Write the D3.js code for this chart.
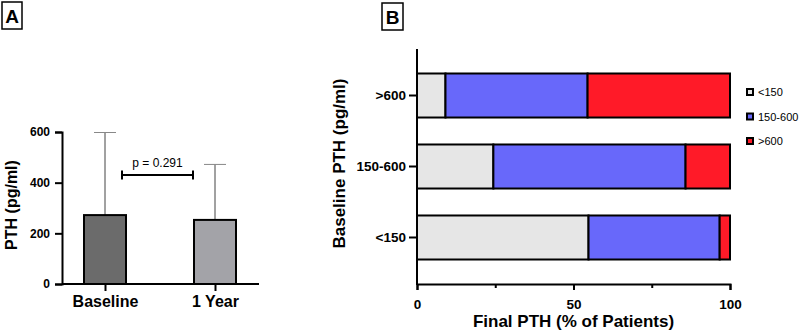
<!DOCTYPE html>
<html>
<head>
<meta charset="utf-8">
<script src="https://cdn.jsdelivr.net/npm/d3@7"></script>
<style>
  body { margin: 0; background: #fff; }
  svg { font-family: "Liberation Sans", Arial, sans-serif; }
</style>
</head>
<body>
<div id="chart"></div>
<script>
// panel A data
const timepoints = ["Baseline", "1 Year"];
const pthMean = [272, 253];
const pthSD = [326, 219];
const barColors = ["#6b6b6b", "#a3a3a8"];
const pLabel = "p = 0.291";
const yTicksA = [0, 200, 400, 600];

// panel B data
const baselineGroups = ["<150", "150-600", ">600"];
const finalGroups = ["<150", "150-600", ">600"];
const finalLow = [54.8, 24.4, 9.1];
const finalMid = [41.9, 61.4, 45.4];
const finalHigh = [3.3, 14.2, 45.5];
const segColors = ["#e6e6e6", "#6868fa", "#ff1a28"];
const xTicksB = [0, 25, 50, 75, 100];

const FONT = "Liberation Sans, Arial, sans-serif";

const svg = d3.select("#chart").append("svg")
    .attr("width", 800)
    .attr("height", 335);

// ---------- panel A ----------
const gA = svg.append("g");
const yA = d3.scaleLinear().domain([0, 600]).range([284, 132]);
const xA = d3.scalePoint().domain(timepoints).range([105, 215]);

gA.append("rect").attr("x", 2).attr("y", 2).attr("width", 20).attr("height", 27)
    .attr("fill", "none").attr("stroke", "#000").attr("stroke-width", 1.5);
gA.append("text").attr("x", 12).attr("y", 23).attr("text-anchor", "middle")
    .attr("font-size", 19).attr("font-weight", "bold").text("A");

// error bars first, bars drawn on top
timepoints.forEach((t, i) => {
    const cx = xA(t);
    gA.append("line").attr("x1", cx).attr("x2", cx)
        .attr("y1", yA(pthMean[i])).attr("y2", yA(pthMean[i] + pthSD[i]))
        .attr("stroke", "#444").attr("stroke-width", 1);
    gA.append("line").attr("x1", cx - 11).attr("x2", cx + 11)
        .attr("y1", yA(pthMean[i] + pthSD[i])).attr("y2", yA(pthMean[i] + pthSD[i]))
        .attr("stroke", "#888").attr("stroke-width", 1);
});

gA.selectAll(".barA")
    .data(timepoints)
    .join("rect")
    .attr("class", "barA")
    .attr("x", d => xA(d) - 21)
    .attr("width", 42)
    .attr("y", (d, i) => yA(pthMean[i]))
    .attr("height", (d, i) => yA(0) - yA(pthMean[i]))
    .attr("fill", (d, i) => barColors[i])
    .attr("stroke", "#000")
    .attr("stroke-width", 2);

const axisYA = gA.append("g").attr("transform", "translate(62,0)")
    .call(d3.axisLeft(yA).tickValues(yTicksA).tickSize(7).tickPadding(5));
const axisXA = gA.append("g").attr("transform", "translate(0,284)")
    .call(d3.axisBottom(xA).tickSize(7).tickPadding(5));
axisXA.select(".domain").attr("d", "M62,0H259");
[axisYA, axisXA].forEach(a => {
    a.select(".domain").attr("stroke-width", 2).attr("stroke", "#000");
    a.selectAll(".tick line").attr("stroke-width", 2).attr("stroke", "#000");
});
axisYA.selectAll("text").attr("font-size", 12).attr("font-weight", "bold")
    .attr("font-family", FONT).attr("fill", "#000");
axisXA.selectAll("text").attr("font-size", 16).attr("font-weight", "bold")
    .attr("font-family", FONT).attr("fill", "#000");

gA.append("text")
    .attr("transform", "translate(17,205) rotate(-90)")
    .attr("text-anchor", "middle")
    .attr("font-size", 16).attr("font-weight", "bold")
    .text("PTH (pg/ml)");

// significance bracket
const bY = yA(430);
gA.append("line").attr("x1", 122).attr("x2", 193).attr("y1", bY).attr("y2", bY)
    .attr("stroke", "#000").attr("stroke-width", 2);
[122, 193].forEach(x => gA.append("line").attr("x1", x).attr("x2", x)
    .attr("y1", bY - 4.5).attr("y2", bY + 4.5).attr("stroke", "#000").attr("stroke-width", 2));
gA.append("text").attr("x", 157.5).attr("y", 167).attr("text-anchor", "middle")
    .attr("font-size", 12).text(pLabel);

// ---------- panel B ----------
const gB = svg.append("g");
const xB = d3.scaleLinear().domain([0, 100]).range([417, 730]);
const yB = d3.scaleBand().domain(baselineGroups).range([284, 49])
    .paddingInner(0.38).paddingOuter(0.345);

gB.append("rect").attr("x", 382).attr("y", 3).attr("width", 21).attr("height", 27)
    .attr("fill", "none").attr("stroke", "#000").attr("stroke-width", 1.5);
gB.append("text").attr("x", 392.5).attr("y", 24).attr("text-anchor", "middle")
    .attr("font-size", 19).attr("font-weight", "bold").text("B");

const stackRows = baselineGroups.map((g, i) => ({
    group: g, "<150": finalLow[i], "150-600": finalMid[i], ">600": finalHigh[i]
}));
const series = d3.stack().keys(finalGroups)(stackRows);

gB.selectAll(".seg")
    .data(series)
    .join("g")
    .attr("fill", (d, i) => segColors[i])
    .selectAll("rect")
    .data(d => d)
    .join("rect")
    .attr("x", d => xB(d[0]))
    .attr("width", d => xB(d[1]) - xB(d[0]))
    .attr("y", d => yB(d.data.group))
    .attr("height", yB.bandwidth())
    .attr("stroke", "#000")
    .attr("stroke-width", 2);

const axisYB = gB.append("g").attr("transform", "translate(417,0)")
    .call(d3.axisLeft(yB).tickSize(8).tickPadding(3).tickSizeOuter(0));
axisYB.select(".domain").attr("d", "M0,49V285");
const axisXB = gB.append("g").attr("transform", "translate(0,284)")
    .call(d3.axisBottom(xB).tickValues(xTicksB).tickSize(6).tickPadding(9)
        .tickFormat(d => d % 50 === 0 ? d : ""));
axisXB.selectAll(".tick line").attr("y2", d => d % 50 === 0 ? 6 : 4);
[axisYB, axisXB].forEach(a => {
    a.select(".domain").attr("stroke-width", 2).attr("stroke", "#000");
    a.selectAll(".tick line").attr("stroke-width", 2).attr("stroke", "#000");
    a.selectAll("text").attr("font-size", 13.5).attr("font-weight", "bold")
        .attr("font-family", FONT).attr("fill", "#000");
});

gB.append("text")
    .attr("transform", "translate(345,163.5) rotate(-90)")
    .attr("text-anchor", "middle")
    .attr("font-size", 17).attr("font-weight", "bold")
    .text("Baseline PTH (pg/ml)");
gB.append("text")
    .attr("x", xB(50)).attr("y", 327)
    .attr("text-anchor", "middle")
    .attr("font-size", 17).attr("font-weight", "bold")
    .text("Final PTH (% of Patients)");

// legend
const legend = gB.selectAll(".leg")
    .data(finalGroups)
    .join("g")
    .attr("transform", (d, i) => `translate(750,${92 + i * 24.5})`);
legend.append("rect").attr("x", -3).attr("y", -3).attr("width", 6).attr("height", 6)
    .attr("fill", (d, i) => segColors[i]).attr("stroke", "#000").attr("stroke-width", 2);
legend.append("text").attr("x", 8).attr("y", 4).attr("font-size", 11).text(d => d);
</script>
</body>
</html>
